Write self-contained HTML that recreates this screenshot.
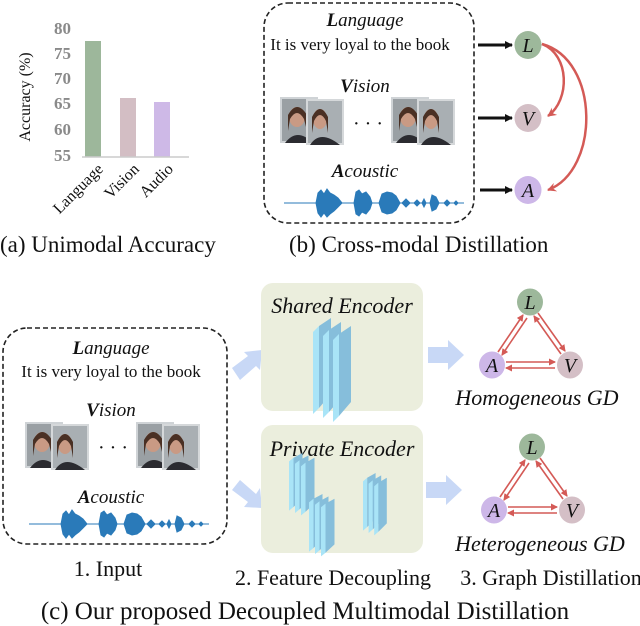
<!DOCTYPE html>
<html><head><meta charset="utf-8"><style>
html,body{margin:0;padding:0;background:#fff;}
svg{display:block;}
text{font-family:"Liberation Serif",serif;fill:#111;}
.it{font-style:italic;}
</style></head><body>
<svg width="640" height="626" viewBox="0 0 640 626" xmlns="http://www.w3.org/2000/svg">
<defs>
<marker id="ab" markerWidth="8" markerHeight="8" refX="7" refY="4" orient="auto" markerUnits="userSpaceOnUse"><path d="M0,0 L8,4 L0,8 z" fill="#111"/></marker>
<marker id="ar" markerWidth="9" markerHeight="9" refX="8" refY="4.5" orient="auto" markerUnits="userSpaceOnUse"><path d="M0,0 L9,4.5 L0,9 L3,4.5 z" fill="#d45a56"/></marker>
<marker id="ar2" markerWidth="7" markerHeight="7" refX="6" refY="3.5" orient="auto" markerUnits="userSpaceOnUse"><path d="M0,0 L7,3.5 L0,7 z" fill="#d45a56"/></marker>
<g id="frames">
 <rect x="0" y="0" width="38" height="46" fill="#cfd3d6"/>
 <rect x="2" y="2" width="34" height="42" fill="#9aa0a4"/>
 <ellipse cx="17" cy="20" rx="8" ry="10" fill="#c99a84"/>
 <path d="M5,46 Q17,30 33,46z" fill="#2b2b30"/>
 <path d="M8,18 Q17,2 27,18 L27,34 L24,22 Q17,10 10,22 L8,34z" fill="#4a3024"/>
 <rect x="26" y="2" width="38" height="46" fill="#d5d8da"/>
 <rect x="28" y="4" width="34" height="42" fill="#a9afb3"/>
 <ellipse cx="40" cy="22" rx="7" ry="10" fill="#c99a84"/>
 <path d="M30,48 Q40,32 60,48z" fill="#2b2b30"/>
 <path d="M32,20 Q40,4 48,20 L48,36 L46,24 Q40,12 34,24 L32,36z" fill="#4a3024"/>
</g>
<g id="wave" fill="#2a7ab9" stroke="#2a7ab9">
 <line x1="0" y1="0" x2="180" y2="0" stroke-width="1"/>
 <path d="M32,0 L34,-10 L37,-13 L40,-9 L43,-14 L46,-10 L50,-8 L54,-5 L58,0 L54,4 L50,8 L46,11 L43,14 L40,10 L37,14 L34,10z"/>
 <path d="M70,0 L72,-11 L75,-13 L78,-9 L82,-11 L86,-6 L88,0 L86,6 L82,11 L78,9 L75,13 L72,11z"/>
 <path d="M95,0 L98,-9 L103,-11 L108,-10 L112,-7 L116,0 L112,7 L108,10 L103,11 L98,9z"/>
 <path d="M118,0 L122,-4 L126,0 L122,4z"/><path d="M130,0 L133,-3 L136,0 L133,3z"/><path d="M138,0 L140,-4 L142,0 L140,4z"/>
 <path d="M146,0 L148,-8 L152,-6 L155,0 L152,6 L148,8z"/>
 <path d="M160,0 L163,-3 L166,0 L163,3z"/><path d="M170,0 L172,-2 L174,0 L172,2z"/>
</g>
<g id="slab">
 <polygon points="0,14 6,8 6,90 0,96" fill="#a9e4f7"/>
 <polygon points="6,8 18,0 18,76 6,90" fill="#86bedb"/>
</g>
</defs>

<!-- (a) chart -->
<g font-size="17" text-anchor="end" font-weight="bold">
<text x="71" y="34" style="fill:#8a8a8a">80</text>
<text x="71" y="59" style="fill:#8a8a8a">75</text>
<text x="71" y="84" style="fill:#8a8a8a">70</text>
<text x="71" y="109" style="fill:#8a8a8a">65</text>
<text x="71" y="135" style="fill:#8a8a8a">60</text>
<text x="71" y="161" style="fill:#8a8a8a">55</text>
</g>
<text x="0" y="0" font-size="16" text-anchor="middle" transform="translate(30,97) rotate(-90)">Accuracy (%)</text>
<rect x="85" y="41" width="16" height="116" fill="#9db79b"/>
<rect x="120" y="98" width="16" height="59" fill="#d3bec4"/>
<rect x="154" y="102" width="16" height="55" fill="#ceb9e7"/>
<line x1="82" y1="157" x2="189" y2="157" stroke="#ccc" stroke-width="1.5"/>
<text font-size="16" text-anchor="end" transform="translate(104,170) rotate(-45)">Language</text>
<text font-size="16" text-anchor="end" transform="translate(140,170) rotate(-45)">Vision</text>
<text font-size="16" text-anchor="end" transform="translate(174,170) rotate(-45)">Audio</text>
<text x="0" y="252" font-size="23">(a) Unimodal Accuracy</text>

<!-- (b) -->
<rect x="264" y="3" width="210" height="220" rx="24" fill="none" stroke="#222" stroke-width="1.6" stroke-dasharray="5,3"/>
<text x="365" y="26" font-size="19" text-anchor="middle" class="it"><tspan font-weight="bold">L</tspan>anguage</text>
<text x="360" y="50" font-size="17" text-anchor="middle">It is very loyal to the book</text>
<text x="365" y="92" font-size="19" text-anchor="middle" class="it"><tspan font-weight="bold">V</tspan>ision</text>
<use href="#frames" x="280" y="97"/>
<use href="#frames" x="391" y="97"/>
<text x="368" y="130" font-size="20" text-anchor="middle">· · ·</text>
<text x="365" y="177" font-size="19" text-anchor="middle" class="it"><tspan font-weight="bold">A</tspan>coustic</text>
<use href="#wave" x="284" y="203"/>

<line x1="478" y1="45" x2="512" y2="45" stroke="#111" stroke-width="3" marker-end="url(#ab)"/>
<line x1="478" y1="118" x2="512" y2="118" stroke="#111" stroke-width="3" marker-end="url(#ab)"/>
<line x1="480" y1="190" x2="512" y2="190" stroke="#111" stroke-width="3" marker-end="url(#ab)"/>
<ellipse cx="528" cy="45" rx="13.5" ry="14" fill="#9db89b"/>
<ellipse cx="528" cy="118" rx="13.5" ry="14" fill="#d4bfc6"/>
<ellipse cx="528" cy="190" rx="13.5" ry="14" fill="#cdb7e8"/>
<text x="528" y="52" font-size="20" text-anchor="middle" class="it">L</text>
<text x="528" y="125" font-size="20" text-anchor="middle" class="it">V</text>
<text x="528" y="197" font-size="20" text-anchor="middle" class="it">A</text>
<path d="M542,44 C570,55 570,100 548,116" fill="none" stroke="#d45a56" stroke-width="2.5" marker-end="url(#ar)"/>
<path d="M542,44 C600,60 600,170 548,190" fill="none" stroke="#d45a56" stroke-width="2.5" marker-end="url(#ar)"/>
<text x="289" y="252" font-size="23">(b) Cross-modal Distillation</text>

<!-- (c) input -->
<rect x="3" y="328" width="224" height="216" rx="24" fill="none" stroke="#222" stroke-width="1.6" stroke-dasharray="5,3"/>
<text x="111" y="354" font-size="19" text-anchor="middle" class="it"><tspan font-weight="bold">L</tspan>anguage</text>
<text x="111" y="377" font-size="17" text-anchor="middle">It is very loyal to the book</text>
<text x="111" y="416" font-size="19" text-anchor="middle" class="it"><tspan font-weight="bold">V</tspan>ision</text>
<use href="#frames" x="25" y="422"/>
<use href="#frames" x="136" y="422"/>
<text x="113" y="454" font-size="20" text-anchor="middle">· · ·</text>
<text x="111" y="503" font-size="19" text-anchor="middle" class="it"><tspan font-weight="bold">A</tspan>coustic</text>
<use href="#wave" x="29" y="524"/>
<text x="108" y="576" font-size="22" text-anchor="middle">1. Input</text>

<!-- blue arrows -->
<polygon points="232,368 248,356 244,352 262,350 260,370 256,366 240,380" fill="#c8d8f6"/>
<polygon points="232,490 240,480 256,494 260,488 262,508 244,507 248,502" fill="#c8d8f6"/>
<polygon points="428,347 448,347 448,340 464,355 448,370 448,363 428,363" fill="#c8d8f6"/>
<polygon points="426,482 446,482 446,475 462,490 446,505 446,498 426,498" fill="#c8d8f6"/>

<!-- encoders -->
<rect x="261" y="283" width="162" height="128" rx="12" fill="#ebeedd"/>
<rect x="261" y="425" width="162" height="128" rx="12" fill="#ebeedd"/>
<text x="342" y="313" font-size="22" text-anchor="middle" class="it">Shared  Encoder</text>
<text x="342" y="456" font-size="22" text-anchor="middle" class="it">Private Encoder</text>
<use href="#slab" x="313" y="318"/>
<use href="#slab" x="323" y="322"/>
<use href="#slab" x="333" y="326"/>
<g transform="translate(289,453) scale(0.75,0.6)"><use href="#slab" x="0" y="0"/><use href="#slab" x="8" y="4"/><use href="#slab" x="16" y="8"/></g>
<g transform="translate(309,494) scale(0.75,0.6)"><use href="#slab" x="0" y="0"/><use href="#slab" x="8" y="4"/><use href="#slab" x="16" y="8"/></g>
<g transform="translate(363,473) scale(0.7,0.6)"><use href="#slab" x="0" y="0"/><use href="#slab" x="8" y="4"/><use href="#slab" x="16" y="8"/></g>
<text x="333" y="585" font-size="22" text-anchor="middle">2. Feature Decoupling</text>

<!-- graphs -->
<g id="g1">
<g stroke="#d45a56" stroke-width="1.6" fill="none">
 <line x1="498" y1="352" x2="523" y2="315" marker-end="url(#ar2)"/>
 <line x1="527" y1="318" x2="502" y2="355" marker-end="url(#ar2)"/>
 <line x1="538" y1="313" x2="565" y2="351" marker-end="url(#ar2)"/>
 <line x1="561" y1="354" x2="534" y2="316" marker-end="url(#ar2)"/>
 <line x1="506" y1="362" x2="555" y2="362" marker-end="url(#ar2)"/>
 <line x1="555" y1="368" x2="506" y2="368" marker-end="url(#ar2)"/>
</g>
<ellipse cx="530" cy="302" rx="13" ry="13.5" fill="#9db89b"/>
<ellipse cx="492" cy="365" rx="13" ry="13.5" fill="#cdb7e8"/>
<ellipse cx="570" cy="365" rx="13" ry="13.5" fill="#d4bfc6"/>
<text x="530" y="309" font-size="20" text-anchor="middle" class="it">L</text>
<text x="492" y="372" font-size="20" text-anchor="middle" class="it">A</text>
<text x="570" y="372" font-size="20" text-anchor="middle" class="it">V</text>
</g>
<use href="#g1" x="2" y="145"/>
<text x="537" y="405" font-size="22" text-anchor="middle" class="it">Homogeneous  GD</text>
<text x="540" y="551" font-size="22" text-anchor="middle" class="it">Heterogeneous  GD</text>
<text x="551" y="585" font-size="22" text-anchor="middle">3. Graph Distillation</text>

<text x="305" y="619" font-size="25" text-anchor="middle">(c) Our proposed Decoupled Multimodal Distillation</text>
</svg>
</body></html>
